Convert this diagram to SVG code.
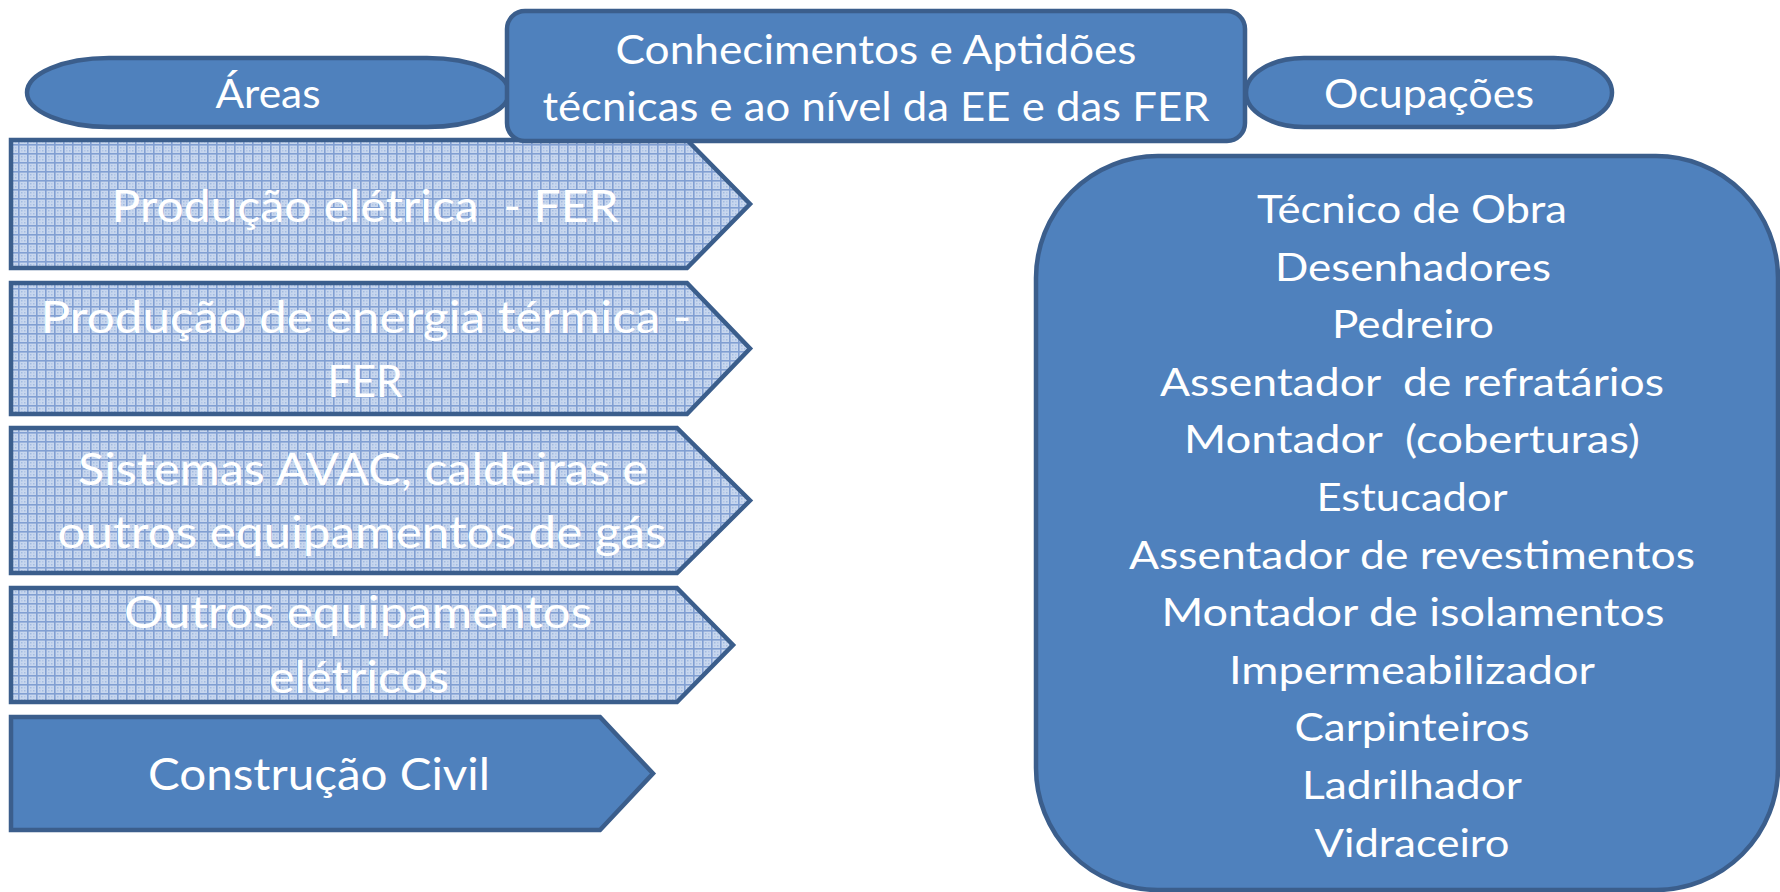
<svg xmlns="http://www.w3.org/2000/svg" width="1780" height="892" viewBox="0 0 1780 892">
<style>
.sh{stroke:#3B5E8C;stroke-width:4.5;stroke-linejoin:miter}
.solid{fill:#4F81BD}
.pat{fill:url(#grid)}
text{font-family:Lato,"Open Sans","Liberation Sans",sans-serif;fill:#FFFFFF;text-anchor:middle;white-space:pre}
.hd{font-size:40px}
.ar{font-size:45px}
.oc{font-size:39px}
</style>
<defs>
<pattern id="grid" width="9" height="9" patternUnits="userSpaceOnUse">
<rect width="9" height="9" fill="#C8D7EE"/>
<rect x="0" y="0" width="9" height="1.6" fill="#819FD2"/>
<rect x="0" y="0" width="1.6" height="9" fill="#819FD2"/>
<rect x="3" y="3" width="1.5" height="1.5" fill="#A3BBE1"/>
<rect x="6" y="6" width="1.5" height="1.5" fill="#A3BBE1"/>
<rect x="6" y="3" width="1.5" height="1.5" fill="#B2C6E7"/>
<rect x="3" y="6" width="1.5" height="1.5" fill="#B2C6E7"/>
</pattern>
</defs>
<rect width="1780" height="892" fill="#FFFFFF"/>

<g id="arrow-producao-eletrica">
<polygon class="sh pat" points="11,140 687,140 750,204 687,268 11,268"/>
<text class="ar" x="365" y="222" textLength="507" lengthAdjust="spacingAndGlyphs">Produção elétrica  - FER</text>
</g>
<g id="arrow-energia-termica">
<polygon class="sh pat" points="11,283 687,283 750,348.5 687,414 11,414"/>
<text class="ar" x="366" y="333" textLength="651" lengthAdjust="spacingAndGlyphs">Produção de energia térmica -</text>
<text class="ar" x="365" y="397" textLength="75" lengthAdjust="spacingAndGlyphs">FER</text>
</g>
<g id="arrow-avac">
<polygon class="sh pat" points="11,428 677,428 750,500.5 677,573 11,573"/>
<text class="ar" x="363" y="485" textLength="570" lengthAdjust="spacingAndGlyphs">Sistemas AVAC, caldeiras e</text>
<text class="ar" x="362" y="548" textLength="609" lengthAdjust="spacingAndGlyphs">outros equipamentos de gás</text>
</g>
<g id="arrow-outros-equipamentos">
<polygon class="sh pat" points="11,588 677,588 733,645 677,702 11,702"/>
<text class="ar" x="358" y="628" textLength="468" lengthAdjust="spacingAndGlyphs">Outros equipamentos</text>
<text class="ar" x="359" y="693" textLength="180" lengthAdjust="spacingAndGlyphs">elétricos</text>
</g>
<g id="arrow-construcao-civil">
<polygon class="sh solid" points="11,717 600,717 653,773.5 600,830 11,830"/>
<text class="ar" x="319" y="790" textLength="342" lengthAdjust="spacingAndGlyphs">Construção Civil</text>
</g>

<g id="pill-areas">
<rect class="sh solid" x="27" y="58" width="482" height="69" rx="82" ry="34.5"/>
<text class="hd" x="268" y="108" textLength="105" lengthAdjust="spacingAndGlyphs">Áreas</text>
</g>
<g id="pill-ocupacoes">
<rect class="sh solid" x="1246" y="58" width="366" height="69" rx="58" ry="34.5"/>
<text class="hd" x="1429" y="108" textLength="210" lengthAdjust="spacingAndGlyphs">Ocupações</text>
</g>
<g id="box-conhecimentos">
<rect class="sh solid" x="507" y="11" width="738" height="130" rx="18" ry="18"/>
<text class="hd" x="876" y="64" textLength="521" lengthAdjust="spacingAndGlyphs">Conhecimentos e Aptidões</text>
<text class="hd" x="876" y="121" textLength="667" lengthAdjust="spacingAndGlyphs">técnicas e ao nível da EE e das FER</text>
</g>

<g id="box-ocupacoes-lista">
<rect class="sh solid" x="1036" y="156" width="742" height="734" rx="122" ry="122"/>
<text class="oc" x="1412" y="223" textLength="310" lengthAdjust="spacingAndGlyphs">Técnico de Obra</text>
<text class="oc" x="1413" y="280.6" textLength="276" lengthAdjust="spacingAndGlyphs">Desenhadores</text>
<text class="oc" x="1413" y="338.2" textLength="162" lengthAdjust="spacingAndGlyphs">Pedreiro</text>
<text class="oc" x="1412" y="395.8" textLength="504" lengthAdjust="spacingAndGlyphs">Assentador  de refratários</text>
<text class="oc" x="1412" y="453.4" textLength="456" lengthAdjust="spacingAndGlyphs">Montador  (coberturas)</text>
<text class="oc" x="1412" y="511" textLength="191" lengthAdjust="spacingAndGlyphs">Estucador</text>
<text class="oc" x="1412" y="568.6" textLength="566" lengthAdjust="spacingAndGlyphs">Assentador de revestimentos</text>
<text class="oc" x="1413" y="626.2" textLength="503" lengthAdjust="spacingAndGlyphs">Montador de isolamentos</text>
<text class="oc" x="1412" y="683.8" textLength="366" lengthAdjust="spacingAndGlyphs">Impermeabilizador</text>
<text class="oc" x="1412" y="741.4" textLength="235" lengthAdjust="spacingAndGlyphs">Carpinteiros</text>
<text class="oc" x="1412" y="799" textLength="220" lengthAdjust="spacingAndGlyphs">Ladrilhador</text>
<text class="oc" x="1412" y="856.6" textLength="195" lengthAdjust="spacingAndGlyphs">Vidraceiro</text>
</g>

<g id="connectors"/>
</svg>
